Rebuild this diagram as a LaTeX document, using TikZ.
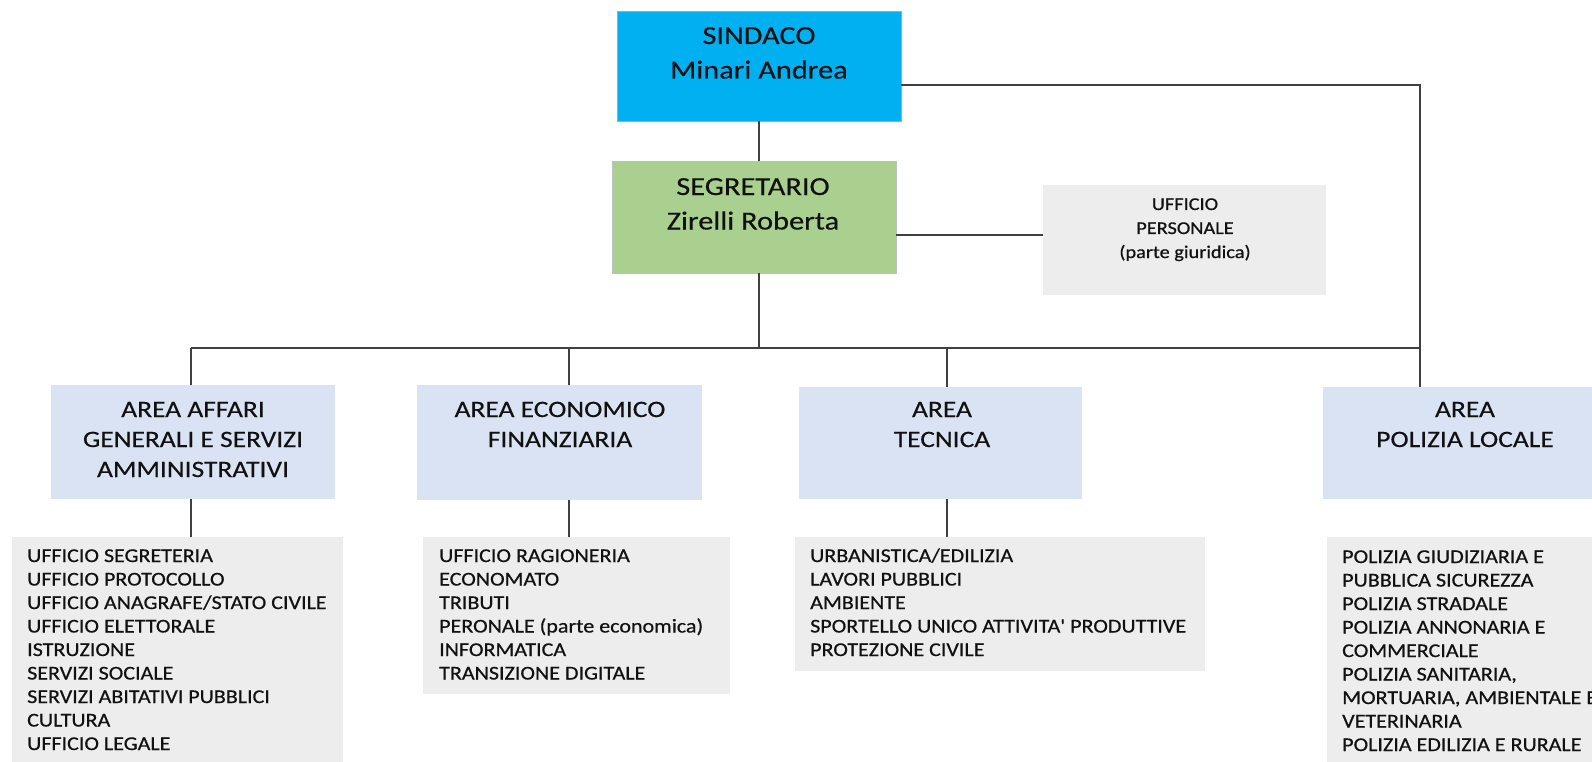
\documentclass[tikz,border=0pt]{standalone}
\usepackage{fontspec}
\setmainfont{Carlito}
\newfontfamily\hdrfont[FakeStretch=1.17,FakeBold=0.3]{Carlito}
\newfontfamily\lstfont[FakeStretch=1.13,FakeBold=0.6]{Carlito}
\definecolor{sindblue}{HTML}{00B0F0}
\definecolor{segreen}{HTML}{A9D08E}
\definecolor{areablue}{HTML}{DAE3F3}
\definecolor{listgrey}{HTML}{EDEDED}
\definecolor{linegrey}{HTML}{404040}
\definecolor{txt}{HTML}{111111}
\begin{document}
\begin{tikzpicture}[x=1pt,y=-1pt,
  box/.style={rectangle, inner sep=0pt, outer sep=0pt, anchor=north west},
  hdr/.style={inner sep=0pt, anchor=base, align=center, text=txt, font=\hdrfont\fontsize{26}{34.5}\selectfont},
  areat/.style={inner sep=0pt, anchor=base, align=center, text=txt, font=\hdrfont\fontsize{23.5}{30}\selectfont},
  listt/.style={inner sep=0pt, anchor=base west, align=left, text=txt, font=\lstfont\fontsize{19.5}{23.5}\selectfont},
  perst/.style={inner sep=0pt, anchor=base, align=center, text=txt, font=\lstfont\fontsize{18}{24}\selectfont},
  conn/.style={draw=linegrey, line width=1.6pt}]
\useasboundingbox (0,0) rectangle (1592,762);
\clip (0,0) rectangle (1592,762);
% boxes
\node[box, fill=sindblue, draw=sindblue!70!white, line width=0.6pt, minimum width=284pt, minimum height=110pt] (sindaco) at (617,11) {};
\node[box, fill=segreen, draw=black!25, line width=0.6pt, minimum width=284pt, minimum height=112pt] (segretario) at (612,161) {};
\node[box, fill=listgrey, minimum width=283pt, minimum height=110pt] (personale) at (1043,185) {};
\node[box, fill=areablue, minimum width=284pt, minimum height=114pt] (a1) at (51,385) {};
\node[box, fill=areablue, minimum width=285pt, minimum height=115pt] (a2) at (417,385) {};
\node[box, fill=areablue, minimum width=283pt, minimum height=112pt] (a3) at (799,387) {};
\node[box, fill=areablue, minimum width=290pt, minimum height=112pt] (a4) at (1323,387) {};
\node[box, fill=listgrey, minimum width=331pt, minimum height=240pt] (l1) at (12,537) {};
\node[box, fill=listgrey, minimum width=307pt, minimum height=157pt] (l2) at (423,537) {};
\node[box, fill=listgrey, minimum width=410pt, minimum height=134pt] (l3) at (795,537) {};
\node[box, fill=listgrey, minimum width=280pt, minimum height=240pt] (l4) at (1327,537) {};
% texts (anchor = baseline of the last line)
\node[hdr] (sindacot) at (759,78.5) {SINDACO\\Minari Andrea};
\node[hdr] (segretariot) at (753,229.5) {SEGRETARIO\\Zirelli Roberta};
\node[perst] (personalet) at (1185,258) {UFFICIO\\PERSONALE\\(parte giuridica)};
\node[areat] (a1t) at (193,477) {AREA AFFARI\\GENERALI E SERVIZI\\AMMINISTRATIVI};
\node[areat] (a2t) at (560,447) {AREA ECONOMICO\\FINANZIARIA};
\node[areat] (a3t) at (942,447) {AREA\\TECNICA};
\node[areat] (a4t) at (1465,447) {AREA\\POLIZIA LOCALE};
\node[listt] (l1t) at (27,750) {UFFICIO SEGRETERIA\\UFFICIO PROTOCOLLO\\UFFICIO ANAGRAFE/STATO CIVILE\\UFFICIO ELETTORALE\\ISTRUZIONE\\SERVIZI SOCIALE\\SERVIZI ABITATIVI PUBBLICI\\CULTURA\\UFFICIO LEGALE};
\node[listt] (l2t) at (439,679.5) {UFFICIO RAGIONERIA\\ECONOMATO\\TRIBUTI\\PERONALE (parte economica)\\INFORMATICA\\TRANSIZIONE DIGITALE};
\node[listt] (l3t) at (810,656) {URBANISTICA/EDILIZIA\\LAVORI PUBBLICI\\AMBIENTE\\SPORTELLO UNICO ATTIVITA' PRODUTTIVE\\PROTEZIONE CIVILE};
\node[listt] (l4t) at (1342,751) {POLIZIA GIUDIZIARIA E\\PUBBLICA SICUREZZA\\POLIZIA STRADALE\\POLIZIA ANNONARIA E\\COMMERCIALE\\POLIZIA SANITARIA,\\MORTUARIA, AMBIENTALE E\\VETERINARIA\\POLIZIA EDILIZIA E RURALE};
% connectors
\coordinate (j1) at (191,348);
\coordinate (j2) at (569,348);
\coordinate (j3) at (947,348);
\coordinate (j4) at (1420,348);
\coordinate (c) at (1420,85);
\coordinate (pl) at (1043,235);
\draw[conn] (sindaco.south) -- (sindaco.south |- segretario.north);
\draw[conn] (sindaco.south |- segretario.south) -- (sindaco.south |- j1);
\draw[conn] (segretario.east |- pl) -- (pl);
\draw[conn] (sindaco.east |- c) -- (c) -- (j4);
\draw[conn] (j1) -- (j4);
\draw[conn] (j1) -- (j1 |- a1.north);
\draw[conn] (j2) -- (j2 |- a2.north);
\draw[conn] (j3) -- (j3 |- a3.north);
\draw[conn] (j4) -- (j4 |- a4.north);
\draw[conn] (j1 |- a1.south) -- (j1 |- l1.north);
\draw[conn] (j2 |- a2.south) -- (j2 |- l2.north);
\draw[conn] (j3 |- a3.south) -- (j3 |- l3.north);
\end{tikzpicture}
\end{document}
